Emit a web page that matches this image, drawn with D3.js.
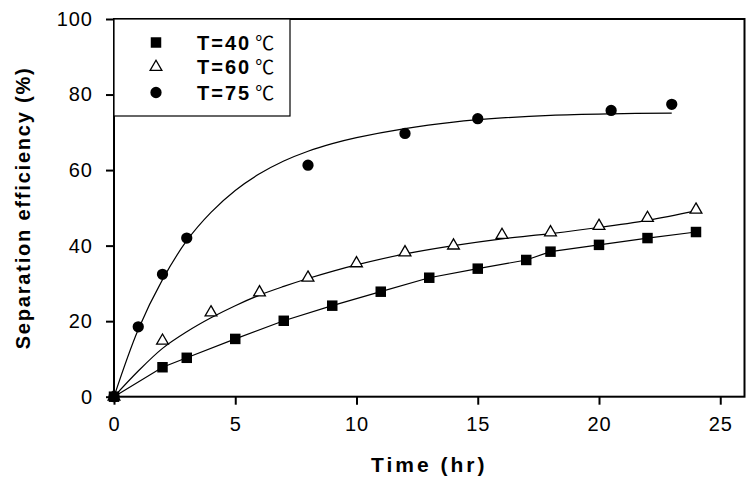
<!DOCTYPE html>
<html><head><meta charset="utf-8">
<script src="https://cdn.jsdelivr.net/npm/d3@7"></script>
<style>
html,body{margin:0;padding:0;background:#fff;}
svg{display:block;font-family:"Liberation Sans",Arial,sans-serif;}
</style></head>
<body>
<svg id="c" width="753" height="482"></svg>
<script>
// ---- data ----
const xTicks = [0, 5, 10, 15, 20, 25];
const yTicks = [0, 20, 40, 60, 80, 100];
const seriesNames = ["T=40", "T=60", "T=75"];

const t40 = [0, 2, 3, 5, 7, 9, 11, 13, 15, 17, 18, 20, 22, 24];
const v40 = [0, 7.8, 10.3, 15.3, 20.1, 24.1, 27.8, 31.5, 33.9, 36.2, 38.4, 40.2, 42.0, 43.6];

const t60 = [0, 2, 4, 6, 8, 10, 12, 14, 16, 18, 20, 22, 24];
const v60 = [0, 14.8, 22.3, 27.6, 31.5, 35.3, 38.2, 40.0, 42.8, 43.5, 45.2, 47.3, 49.5];

const t75 = [0, 1, 2, 3, 8, 12, 15, 20.5, 23];
const v75 = [0, 18.5, 32.4, 42.0, 61.3, 69.7, 73.6, 75.8, 77.4];

// fitted curves
const fit60T = [0, 1, 2, 3, 4, 5, 6, 7, 8, 9, 10, 12, 14, 16, 18, 20, 22, 24];
const fit60V = [0, 6.8, 12.8, 17.2, 20.9, 24.1, 26.9, 29.2, 31.3, 33.2, 34.9, 37.8, 40.0, 41.8, 43.2, 44.8, 46.7, 49.2];

const fit75T = [0, 1, 2, 3, 4, 5, 6, 7, 8, 9, 10, 12, 14, 16, 18, 20.5, 23];
const fit75V = [0, 17.8, 31.0, 41.3, 48.8, 54.6, 59.0, 62.4, 65.0, 67.0, 68.6, 71.0, 72.7, 73.8, 74.5, 74.9, 75.1];

// ---- chart ----
const svg = d3.select("#c");
const x = d3.scaleLinear().domain([0, 26]).range([114, 744.5]);
const y = d3.scaleLinear().domain([0, 100]).range([396.7, 19]);

const zip = (a, b) => a.map((d, i) => [d, b[i]]);
const line = d3.line().x(d => x(d[0])).y(d => y(d[1]));
const smooth = d3.line().x(d => x(d[0])).y(d => y(d[1])).curve(d3.curveCatmullRom.alpha(0.5));

// axes
const ax = svg.append("g").attr("transform", `translate(0,${y(0)})`)
  .call(d3.axisBottom(x).tickValues(xTicks).tickSize(8).tickPadding(12).tickFormat(d3.format("d")));
const ay = svg.append("g").attr("transform", `translate(${x(0)},0)`)
  .call(d3.axisLeft(y).tickValues(yTicks).tickSize(8).tickPadding(13).tickFormat(d3.format("d")));
[ax, ay].forEach(g => {
  g.select(".domain").remove();
  g.selectAll(".tick line").attr("stroke", "#000").attr("stroke-width", 2);
  g.selectAll(".tick text").attr("fill", "#000").attr("font-size", 20)
    .attr("font-family", '"Liberation Sans",Arial,sans-serif').style("letter-spacing", "1px");
});

// lines
svg.append("path").attr("d", line(zip(t40, v40))).attr("fill", "none").attr("stroke", "#000").attr("stroke-width", 1.2);
svg.append("path").attr("d", smooth(zip(fit60T, fit60V))).attr("fill", "none").attr("stroke", "#000").attr("stroke-width", 1.2);
svg.append("path").attr("d", smooth(zip(fit75T, fit75V))).attr("fill", "none").attr("stroke", "#000").attr("stroke-width", 1.2);

// markers
const sq = d3.symbol().type(d3.symbolSquare).size(110);
const tri = d3.symbol().type(d3.symbolTriangle).size(60);
const cir = d3.symbol().type(d3.symbolCircle).size(100);

svg.append("g").selectAll("path").data(zip(t60, v60)).join("path")
  .attr("d", tri).attr("transform", d => `translate(${x(d[0])},${y(d[1])})`)
  .attr("fill", "#fff").attr("stroke", "#000").attr("stroke-width", 1.3);
svg.append("g").selectAll("path").data(zip(t75, v75)).join("path")
  .attr("d", cir).attr("transform", d => `translate(${x(d[0])},${y(d[1])})`)
  .attr("fill", "#000");
svg.append("g").selectAll("path").data(zip(t40, v40)).join("path")
  .attr("d", sq).attr("transform", d => `translate(${x(d[0])},${y(d[1])})`)
  .attr("fill", "#000");

// frame
svg.append("rect").attr("x", x(0)).attr("y", y(100)).attr("width", x(26) - x(0)).attr("height", y(0) - y(100))
  .attr("fill", "none").attr("stroke", "#000").attr("stroke-width", 2);

// legend
const lg = svg.append("g");
lg.append("rect").attr("x", x(0)).attr("y", y(100)).attr("width", 290 - x(0)).attr("height", 116 - y(100))
  .attr("fill", "#fff").attr("stroke", "#000").attr("stroke-width", 1.2);
const rowsY = [42.5, 67, 92.5];
const syms = [sq, tri, cir];
const fills = ["#000", "#fff", "#000"];
seriesNames.forEach((n, i) => {
  lg.append("path").attr("d", syms[i]).attr("transform", `translate(156,${rowsY[i]})`)
    .attr("fill", fills[i]).attr("stroke", i === 1 ? "#000" : "none").attr("stroke-width", 1.3);
  const tx = lg.append("text").attr("x", 197).attr("y", rowsY[i]).attr("dy", "0.36em")
    .attr("font-size", 20).attr("fill", "#000");
  tx.append("tspan").attr("font-weight", "bold").style("letter-spacing", "2px").text(n);
  tx.append("tspan").attr("dx", 4).attr("font-size", 19).attr("font-family", '"Noto Sans CJK SC",sans-serif').text("℃");
});

// axis titles
svg.append("text").attr("x", (x(0) + x(26)) / 2).attr("y", 472).attr("text-anchor", "middle")
  .attr("font-size", 21).attr("font-weight", "bold").style("letter-spacing", "3px").text("Time (hr)");
svg.append("text").attr("transform", `translate(30,${(y(0) + y(100)) / 2}) rotate(-90)`).attr("text-anchor", "middle")
  .attr("font-size", 20).attr("font-weight", "bold").style("letter-spacing", "1.8px").text("Separation efficiency (%)");
</script>
</body></html>
